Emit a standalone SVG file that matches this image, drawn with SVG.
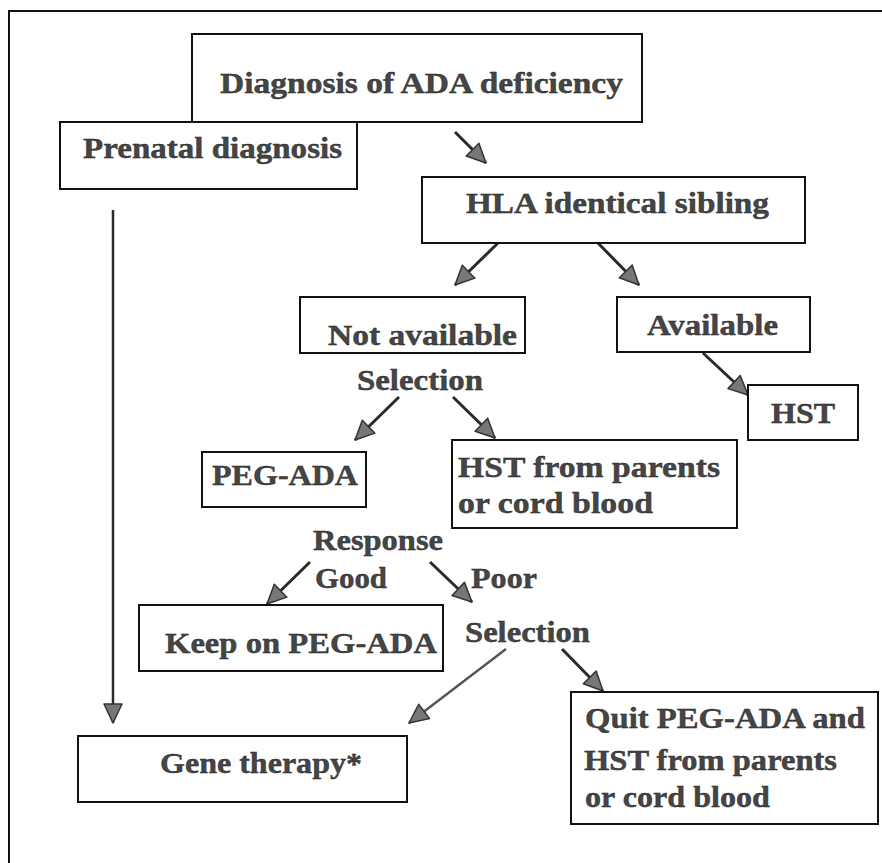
<svg xmlns="http://www.w3.org/2000/svg" width="882" height="863" viewBox="0 0 882 863">
<style>
.box{fill:#fff;stroke:#111;stroke-width:2}
.t{font-family:"Liberation Serif","Times New Roman",serif;font-weight:bold;font-size:29px;fill:#454545;stroke:#1a1a1a;stroke-width:0.35}
.c{stroke:#2a2a2a;stroke-width:3;fill:none;marker-end:url(#ah)}
.frame{stroke:#111;stroke-width:2;fill:none}
</style>
<defs>
<marker id="ah" markerUnits="userSpaceOnUse" markerWidth="26" markerHeight="24" refX="21" refY="11" orient="auto" overflow="visible">
<path d="M2,2 L21,11 L2,20 z" fill="#777" stroke="#333" stroke-width="1.5" stroke-linejoin="round"/>
</marker>
</defs>
<rect width="882" height="863" fill="#fff"/>
<path class="frame" d="M9,863 L9,11 L882,11"/>
<g id="connectors">
<line class="c" x1="455" y1="132" x2="486" y2="163"/>
<line class="c" x1="498" y1="243" x2="455" y2="285"/>
<line class="c" x1="598" y1="243" x2="639" y2="285"/>
<line class="c" x1="703" y1="353" x2="748" y2="395"/>
<line class="c" x1="399" y1="397" x2="355" y2="440"/>
<line class="c" x1="453" y1="397" x2="495" y2="438"/>
<line class="c" x1="310" y1="562" x2="267" y2="604"/>
<line class="c" x1="430" y1="562" x2="472" y2="602"/>
<line class="c" x1="506" y1="649" x2="409" y2="723" style="stroke-width:2.4;stroke:#555"/>
<line class="c" x1="562" y1="649" x2="603" y2="691"/>
<line class="c" x1="113" y1="210" x2="113" y2="723" style="stroke-width:2.5"/>
</g>
<g id="diagnosis">
<rect class="box" x="192" y="34" width="450" height="88"/>
<text class="t" x="220" y="93" textLength="403" lengthAdjust="spacingAndGlyphs">Diagnosis of ADA deficiency</text>
</g>
<g id="prenatal">
<rect class="box" x="60" y="122" width="297" height="67"/>
<text class="t" x="83" y="158" textLength="259" lengthAdjust="spacingAndGlyphs">Prenatal diagnosis</text>
</g>
<g id="hla">
<rect class="box" x="422" y="177" width="383" height="66"/>
<text class="t" x="466" y="213" textLength="303" lengthAdjust="spacingAndGlyphs">HLA identical sibling</text>
</g>
<g id="not-available">
<rect class="box" x="300" y="297" width="225" height="56"/>
<text class="t" x="328" y="345" textLength="189" lengthAdjust="spacingAndGlyphs">Not available</text>
</g>
<g id="available">
<rect class="box" x="617" y="297" width="193" height="55"/>
<text class="t" x="647" y="335" textLength="131" lengthAdjust="spacingAndGlyphs">Available</text>
</g>
<g id="hst">
<rect class="box" x="748" y="385" width="110" height="55"/>
<text class="t" x="771" y="423" textLength="64" lengthAdjust="spacingAndGlyphs">HST</text>
</g>
<g id="label-selection-1">
<text class="t" x="357" y="390" textLength="126" lengthAdjust="spacingAndGlyphs">Selection</text>
</g>
<g id="peg-ada">
<rect class="box" x="202" y="452" width="164" height="55"/>
<text class="t" x="212" y="485" textLength="146" lengthAdjust="spacingAndGlyphs">PEG-ADA</text>
</g>
<g id="hst-parents">
<rect class="box" x="452" y="440" width="285" height="88"/>
<text class="t" x="458" y="477" textLength="262" lengthAdjust="spacingAndGlyphs">HST from parents</text>
<text class="t" x="458" y="513" textLength="195" lengthAdjust="spacingAndGlyphs">or cord blood</text>
</g>
<g id="label-response">
<text class="t" x="313" y="550" textLength="130" lengthAdjust="spacingAndGlyphs">Response</text>
<text class="t" x="315" y="588" textLength="72" lengthAdjust="spacingAndGlyphs">Good</text>
<text class="t" x="471" y="588" textLength="66" lengthAdjust="spacingAndGlyphs">Poor</text>
</g>
<g id="keep-peg-ada">
<rect class="box" x="139" y="605" width="304" height="66"/>
<text class="t" x="165" y="653" textLength="272" lengthAdjust="spacingAndGlyphs">Keep on PEG-ADA</text>
</g>
<g id="label-selection-2">
<text class="t" x="465" y="642" textLength="125" lengthAdjust="spacingAndGlyphs">Selection</text>
</g>
<g id="quit">
<rect class="box" x="571" y="692" width="307" height="132"/>
<text class="t" x="585" y="728" textLength="280" lengthAdjust="spacingAndGlyphs">Quit PEG-ADA and</text>
<text class="t" x="584" y="770" textLength="253" lengthAdjust="spacingAndGlyphs">HST from parents</text>
<text class="t" x="585" y="807" textLength="185" lengthAdjust="spacingAndGlyphs">or cord blood</text>
</g>
<g id="gene-therapy">
<rect class="box" x="78" y="736" width="329" height="66"/>
<text class="t" x="160" y="773" textLength="202" lengthAdjust="spacingAndGlyphs">Gene therapy*</text>
</g>
</svg>
